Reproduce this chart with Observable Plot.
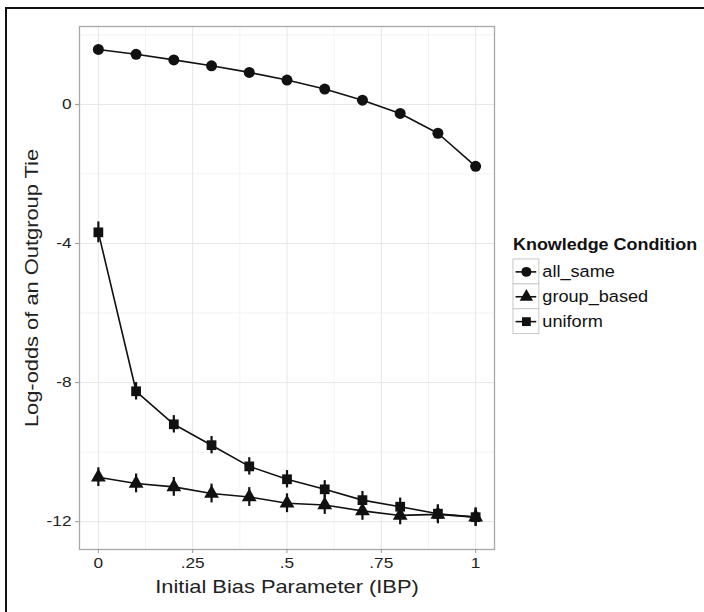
<!DOCTYPE html>
<html><head><meta charset="utf-8">
<script src="https://cdn.jsdelivr.net/npm/d3@7"></script>
<script src="https://cdn.jsdelivr.net/npm/@observablehq/plot@0.6"></script>
<style>
html,body{margin:0;padding:0;background:#fff;}
#wrap{position:relative;width:704px;height:612px;overflow:hidden;font-family:"Liberation Sans",Arial,sans-serif;}
#frame{position:absolute;left:5px;top:7px;width:760px;height:700px;border-top:2px solid #111;border-left:2px solid #111;}
#chart{position:absolute;left:0;top:0;}
#legtitle{position:absolute;left:513px;top:236px;font-size:16px;font-weight:bold;color:#111;white-space:nowrap;transform:scaleX(1.12);transform-origin:left center;}
#legend{position:absolute;left:505px;top:250px;}
</style></head>
<body><div id="wrap"><div id="frame"></div><div id="chart"></div><div id="legtitle">Knowledge Condition</div><div id="legend"></div></div>
<script>
const ibp = [0, 0.1, 0.2, 0.3, 0.4, 0.5, 0.6, 0.7, 0.8, 0.9, 1];
const categories = ["all_same", "group_based", "uniform"];
const allSame    = [1.58, 1.44, 1.28, 1.11, 0.92, 0.70, 0.44, 0.12, -0.26, -0.83, -1.78];
const groupBased = [-10.72, -10.90, -11.00, -11.19, -11.29, -11.47, -11.52, -11.69, -11.82, -11.79, -11.87];
const uniform    = [-3.68, -8.25, -9.20, -9.80, -10.41, -10.78, -11.07, -11.38, -11.57, -11.77, -11.87];
const allSameSe    = [0.04, 0.04, 0.04, 0.04, 0.04, 0.04, 0.04, 0.04, 0.04, 0.05, 0.06];
const groupBasedSe = [0.27, 0.27, 0.27, 0.27, 0.27, 0.27, 0.27, 0.27, 0.27, 0.27, 0.27];
const uniformSe    = [0.30, 0.25, 0.25, 0.25, 0.25, 0.25, 0.25, 0.25, 0.25, 0.25, 0.25];
const xTicks = [0, 0.25, 0.5, 0.75, 1];
const xTickLabels = ["0", ".25", ".5", ".75", "1"];
const xMinor = [0.125, 0.375, 0.625, 0.875];
const yTicks = [0, -4, -8, -12];
const yTickLabels = ["0", "-4", "-8", "-12"];
const yMinor = [2, -2, -6, -10];
const xTitle = "Initial Bias Parameter (IBP)";
const yTitle = "Log-odds of an Outgroup Tie";

const seriesVals = {all_same: allSame, group_based: groupBased, uniform: uniform};
const seriesSe = {all_same: allSameSe, group_based: groupBasedSe, uniform: uniformSe};
const rows = categories.flatMap(c => ibp.map((x, i) => ({
  cond: c, x, y: seriesVals[c][i], lo: seriesVals[c][i] - seriesSe[c][i], hi: seriesVals[c][i] + seriesSe[c][i]
})));
const symbolScale = {domain: categories, range: ["circle", "triangle", "square"]};
const font = "'Liberation Sans', Arial, sans-serif";

const chart = Plot.plot({
  width: 704, height: 612,
  marginLeft: 79, marginRight: 210, marginTop: 26, marginBottom: 63,
  x: {domain: [-0.05, 1.05]},
  y: {domain: [-12.8, 2.24]},
  symbol: symbolScale,
  style: {fontFamily: font, background: "transparent", color: "#222"},
  marks: [
    Plot.gridX(xMinor, {stroke: "#f3f3f3", strokeOpacity: 1}),
    Plot.gridY(yMinor, {stroke: "#f3f3f3", strokeOpacity: 1}),
    Plot.gridX(xTicks, {stroke: "#e6e6e6", strokeOpacity: 1}),
    Plot.gridY(yTicks, {stroke: "#e6e6e6", strokeOpacity: 1}),
    Plot.frame({stroke: "#a8a8a8", strokeWidth: 1.3}),
    Plot.axisX(xTicks, {tickFormat: d => xTickLabels[xTicks.indexOf(d)], tickSize: 4, tickPadding: 4, stroke: "#999", fontSize: 15, fill: "#222", label: null}),
    Plot.axisY(yTicks, {tickFormat: d => yTickLabels[yTicks.indexOf(d)], tickSize: 4, tickPadding: 4, stroke: "#999", fontSize: 15, fill: "#222", label: null}),
    Plot.text([xTitle], {frameAnchor: "bottom", textAnchor: "middle", lineAnchor: "middle", dy: 37, fontSize: 19, fill: "#222"}),
    Plot.text([yTitle], {frameAnchor: "left", textAnchor: "middle", lineAnchor: "middle", dx: -48, rotate: -90, fontSize: 19, fill: "#222"}),
    Plot.line(rows, {x: "x", y: "y", z: "cond", stroke: "#111", strokeWidth: 1.6}),
    Plot.ruleX(rows, {x: "x", y1: "lo", y2: "hi", stroke: "#111", strokeWidth: 2.2}),
    Plot.dot(rows, {x: "x", y: "y", symbol: "cond", r: 5.5, fill: "#111", stroke: "none"})
  ]
});
document.getElementById("chart").appendChild(chart);

const legend = Plot.plot({
  width: 200, height: 90,
  marginLeft: 8, marginRight: 166, marginTop: 8, marginBottom: 5,
  x: {domain: [0, 1], axis: null},
  y: {domain: categories, axis: null, padding: 0},
  symbol: symbolScale,
  style: {fontFamily: font, background: "transparent"},
  marks: [
    Plot.barX(categories, {y: d => d, x1: 0, x2: 1, fill: "white", stroke: "#c8c8c8", strokeWidth: 1}),
    Plot.ruleY(categories, {y: d => d, x1: 0.1, x2: 0.9, stroke: "#111", strokeWidth: 1.6}),
    Plot.dot(categories, {y: d => d, x: 0.5, symbol: d => d, r: 5, fill: "#111", stroke: "none"}),
    Plot.text(categories, {y: d => d, x: 1, dx: 3, text: d => d, textAnchor: "start", fontSize: 16, fill: "#111"})
  ]
});
document.getElementById("legend").appendChild(legend);

// the reference's lettering is a little wider than Liberation Sans: stretch the text horizontally
function widen(svg, k) {
  d3.select(svg).selectAll("text").each(function() {
    const L = this.getComputedTextLength();
    if (L > 0) {
      this.setAttribute("textLength", (L * k).toFixed(1));
      this.setAttribute("lengthAdjust", "spacingAndGlyphs");
    }
  });
}
widen(chart, 1.15);
widen(legend, 1.14);
</script>
</body></html>
